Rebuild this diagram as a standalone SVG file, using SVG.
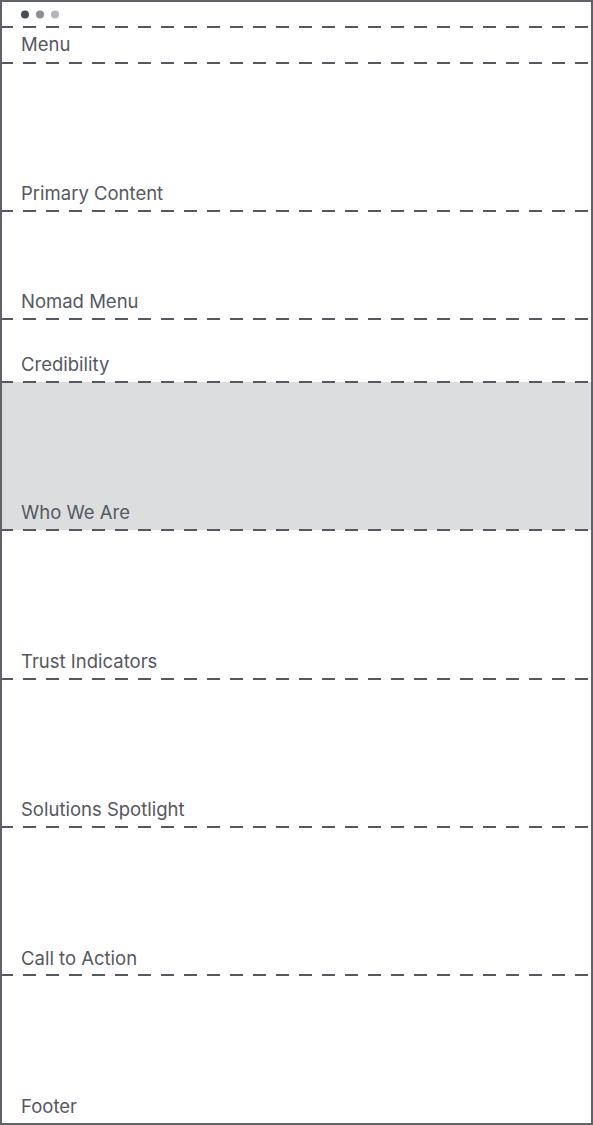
<svg xmlns="http://www.w3.org/2000/svg" width="593" height="1125" viewBox="0 0 593 1125">
<style>
.lbl{font-family:Inter,"Noto Sans",sans-serif;font-size:18.5px;fill:#55585e;}
.div{stroke:#55585e;stroke-width:2;stroke-dasharray:13 10;fill:none;}
</style>
<rect x="0" y="0" width="593" height="1125" fill="#ffffff"/>
<g id="who-we-are-bg"><rect x="1" y="382" width="591" height="148" fill="#dcdddf"/></g>
<g id="window-dots">
<circle cx="25" cy="14.5" r="4" fill="#4a4d57"/>
<circle cx="40" cy="14.5" r="4" fill="#8a8c90"/>
<circle cx="55" cy="14.5" r="4" fill="#b4b6b9"/>
</g>
<g id="connectors">
<line class="div" x1="0" y1="27" x2="593" y2="27"/>
<line class="div" x1="0" y1="63" x2="593" y2="63"/>
<line class="div" x1="0" y1="211" x2="593" y2="211"/>
<line class="div" x1="0" y1="319" x2="593" y2="319"/>
<line class="div" x1="0" y1="382" x2="593" y2="382"/>
<line class="div" x1="0" y1="530" x2="593" y2="530"/>
<line class="div" x1="0" y1="679" x2="593" y2="679"/>
<line class="div" x1="0" y1="827" x2="593" y2="827"/>
<line class="div" x1="0" y1="975" x2="593" y2="975"/>
</g>
<g id="menu"><text class="lbl" x="21" y="51">Menu</text></g>
<g id="primary-content"><text class="lbl" x="21" y="200">Primary Content</text></g>
<g id="nomad-menu"><text class="lbl" x="21" y="308">Nomad Menu</text></g>
<g id="credibility"><text class="lbl" x="21" y="371">Credibility</text></g>
<g id="who-we-are"><text class="lbl" x="21" y="519">Who We Are</text></g>
<g id="trust-indicators"><text class="lbl" x="21" y="668">Trust Indicators</text></g>
<g id="solutions-spotlight"><text class="lbl" x="21" y="816">Solutions Spotlight</text></g>
<g id="call-to-action"><text class="lbl" x="21" y="965">Call to Action</text></g>
<g id="footer"><text class="lbl" x="21" y="1113">Footer</text></g>
<g id="frame"><rect x="1" y="1" width="591" height="1123" fill="none" stroke="#5f6369" stroke-width="2"/></g>
</svg>
